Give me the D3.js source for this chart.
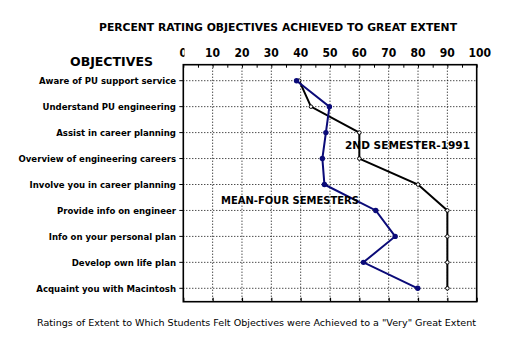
<!DOCTYPE html>
<html><head><meta charset="utf-8">
<script src="https://cdn.jsdelivr.net/npm/d3@7"></script>
<style>body{margin:0;background:#fff}svg{display:block}</style>
</head><body>
<svg id="c" width="512" height="355"></svg>
<script>
const categories = ["Aware of PU support service","Understand PU engineering","Assist in career planning","Overview of engineering careers","Involve you in career planning","Provide info on engineer","Info on your personal plan","Develop own life plan ","Acquaint you with Macintosh"];
const meanFour = [38.6, 49.8, 48.6, 47.4, 48.1, 65.6, 72.2, 61.4, 79.9];
const sem1991 = [39.5, 43.5, 60, 60, 80, 90, 90, 90, 90];
const xTicks = [0,10,20,30,40,50,60,70,80,90,100];
const seriesLabels = ["2ND SEMESTER-1991","MEAN-FOUR SEMESTERS"];

const svg = d3.select("#c");
const L=183.3, R=476.7, T=64.7, B=301.7;
const x = d3.scaleLinear().domain([0,100]).range([L,R]);
const y = d3.scalePoint().domain(categories).range([80.7,288.3]);
const blue = "#0a0a78";

svg.append("text").attr("x",(99+457)/2).attr("y",31).attr("text-anchor","middle")
  .attr("font-family","DejaVu Sans Condensed, DejaVu Sans").attr("font-weight","bold").attr("font-size",11)
  .attr("textLength",358).attr("lengthAdjust","spacingAndGlyphs")
  .text("PERCENT RATING OBJECTIVES ACHIEVED TO GREAT EXTENT");
svg.append("text").attr("x",111.5).attr("y",66).attr("text-anchor","middle")
  .attr("font-family","DejaVu Sans Condensed, DejaVu Sans").attr("font-weight","bold").attr("font-size",12)
  .attr("textLength",83).attr("lengthAdjust","spacingAndGlyphs")
  .text("OBJECTIVES");

// gridlines
const g = svg.append("g");
g.selectAll("line.vg").data(xTicks.slice(1,-1)).join("line")
  .attr("x1",d=>x(d)).attr("x2",d=>x(d)).attr("y1",T).attr("y2",B)
  .attr("stroke","#000").attr("stroke-width",1).attr("stroke-dasharray","1,2");
g.selectAll("line.hg").data(categories).join("line")
  .attr("x1",L).attr("x2",R).attr("y1",d=>y(d)).attr("y2",d=>y(d))
  .attr("stroke","#000").attr("stroke-width",1).attr("stroke-dasharray","1,2");

// frame
svg.append("rect").attr("x",L).attr("y",T).attr("width",R-L).attr("height",B-T)
  .attr("fill","none").attr("stroke","#000").attr("stroke-width",1.6);

// top axis minor ticks
const topAxis = d3.axisTop(x).tickValues(d3.range(0,101,5)).tickSize(-3).tickFormat("");
svg.append("g").attr("transform",`translate(0,${T})`).call(topAxis)
  .call(s=>s.select(".domain").remove()).selectAll("line").attr("stroke","#000");
const botAxis = d3.axisBottom(x).tickValues(xTicks).tickSize(-4).tickFormat("");
svg.append("g").attr("transform",`translate(0,${B})`).call(botAxis)
  .call(s=>s.select(".domain").remove()).selectAll("line").attr("stroke","#000").attr("stroke-width",1.2);

// top tick labels
svg.append("clipPath").attr("id","c0").append("rect").attr("x",0).attr("y",0).attr("width",184.5).attr("height",355);
svg.selectAll("text.xt").data(xTicks).join("text")
  .attr("x",d=>x(d)+(d===100?3:0)).attr("y",57).attr("text-anchor","middle")
  .attr("clip-path",d=>d===0?"url(#c0)":null)
  .attr("font-family","DejaVu Sans Condensed, DejaVu Sans").attr("font-weight","bold").attr("font-size",12)
  .text(d=>d);

// left labels & ticks
svg.selectAll("line.lt").data(categories).join("line")
  .attr("x1",L-4).attr("x2",L).attr("y1",d=>y(d)).attr("y2",d=>y(d)).attr("stroke","#000");
svg.selectAll("text.cat").data(categories).join("text")
  .attr("x",176).attr("y",d=>y(d)+3.5).attr("text-anchor","end")
  .attr("font-family","DejaVu Sans Condensed, DejaVu Sans").attr("font-weight","bold").attr("font-size",9.5)
  .text(d=>d);

// lines
const line = d3.line().x(d=>x(d[0])).y(d=>y(d[1]));
const blackData = sem1991.map((v,i)=>[v,categories[i]]);
const blueData = meanFour.map((v,i)=>[v,categories[i]]);
svg.append("path").attr("d",line(blackData)).attr("fill","none").attr("stroke","#000").attr("stroke-width",2);
svg.selectAll("circle.bk").data(blackData).join("circle")
  .attr("cx",d=>x(d[0])).attr("cy",d=>y(d[1])).attr("r",1.8)
  .attr("fill","#fff").attr("stroke","#000").attr("stroke-width",1);
svg.append("path").attr("d",line(blueData)).attr("fill","none").attr("stroke",blue).attr("stroke-width",2);
svg.selectAll("circle.bl").data(blueData).join("circle")
  .attr("cx",d=>x(d[0])).attr("cy",d=>y(d[1])).attr("r",2.7)
  .attr("fill",blue);

// series labels
svg.append("text").attr("x",345).attr("y",149).attr("font-family","DejaVu Sans Condensed, DejaVu Sans")
  .attr("font-weight","bold").attr("font-size",11).attr("textLength",125).attr("lengthAdjust","spacingAndGlyphs")
  .text(seriesLabels[0]);
svg.append("text").attr("x",221).attr("y",204).attr("font-family","DejaVu Sans Condensed, DejaVu Sans")
  .attr("font-weight","bold").attr("font-size",11).attr("textLength",138).attr("lengthAdjust","spacingAndGlyphs")
  .text(seriesLabels[1]);

// caption
svg.append("text").attr("x",(37+476)/2).attr("y",326).attr("text-anchor","middle")
  .attr("font-family","DejaVu Sans").attr("font-size",9.5)
  .attr("textLength",439).attr("lengthAdjust","spacingAndGlyphs")
  .text('Ratings of Extent to Which Students Felt Objectives were Achieved to a "Very" Great Extent');
</script>
</body></html>
